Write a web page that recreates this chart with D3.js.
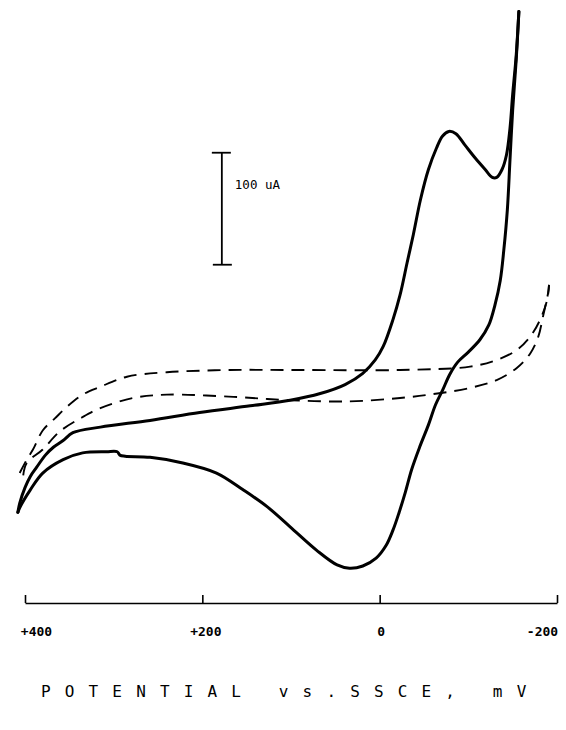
<!DOCTYPE html>
<html>
<head>
<meta charset="utf-8">
<script src="https://cdn.jsdelivr.net/npm/d3@7/dist/d3.min.js"></script>
<style>
  html, body { margin: 0; padding: 0; background: #fff; }
  svg { display: block; }
  text { fill: #000; }
</style>
</head>
<body>
<svg id="chart" width="566" height="730"></svg>
<script>
// ---- Data (potential in mV vs SSCE, current in µA, relative to dashed background) ----
const xTicks = [400, 200, 0, -200];
const xTickLabels = ["+400", "+200", "0", "-200"];
const axisTitle = "POTENTIAL vs.SSCE, mV";
const scaleBarLabel = "100 uA";
const scaleBarValues = [94, 194];   // µA span of the scale bar (100 µA)
const scaleBarPotential = 178;      // mV where the bar sits

// solid CV: cathodic sweep (+400 -> -160 mV)
const cvForward = [
  [408,-127],[406,-119],[400,-105],[394,-95],[387,-87],[377,-76],[368,-69],[357,-63],
  [346,-56],[315,-51],[259,-45],[203,-38],[146,-32],[101,-27],[67,-21],[39,-13],
  [19,-3],[5,9],[-4,21],[-15,45],[-23,67],[-31,96],[-38,121],[-46,152],[-55,179],
  [-64,198],[-71,209],[-78,213],[-86,211],[-96,201],[-108,189],[-119,179],[-127,172],
  [-132,172],[-138,179],[-143,192],[-147,216],[-150,246],[-154,281],[-157,320]
];
// solid CV: anodic return sweep (-160 -> +400 mV)
const cvReverse = [
  [-157,320],[-154,277],[-150,232],[-147,188],[-144,143],[-140,107],[-136,80],[-130,58],
  [-123,40],[-113,27],[-100,16],[-88,7],[-79,-4],[-71,-18],[-63,-31],[-55,-49],
  [-45,-69],[-36,-89],[-29,-109],[-22,-127],[-15,-143],[-7,-157],[4,-168],[19,-175],
  [34,-177],[48,-174],[71,-161],[101,-140],[127,-122],[154,-107],[184,-92],
  [222,-83],[259,-78],[287,-77],[293,-76],[296,-73],[308,-73],[335,-74],[357,-80],
  [380,-92],[394,-107],[406,-123],[408,-127]
];
// dashed background (blank electrolyte): upper and lower branches
const bgUpper = [
  [406,-92],[398,-80],[391,-71],[380,-54],[366,-43],[353,-33],[335,-22],[315,-15],
  [285,-6],[240,-2],[169,0],[90,0],[-23,0],[-102,3],[-132,9],[-155,18],[-170,30],
  [-181,45],[-189,63],[-191,76]
];
const bgLower = [
  [402,-94],[398,-83],[380,-71],[361,-55],[335,-42],[315,-34],[278,-25],[240,-22],
  [165,-24],[101,-27],[34,-28],[-23,-25],[-65,-21],[-102,-16],[-132,-9],[-155,2],
  [-170,15],[-179,30],[-184,47],[-190,69],[-191,76]
];

// ---- Scales ----
const x = d3.scaleLinear().domain([400, -200]).range([25, 557]);
const y = d3.scaleLinear().domain([0, 100]).range([370, 258]);

const svg = d3.select("#chart");
const line = d3.line()
  .x(d => x(d[0])).y(d => y(d[1]))
  .curve(d3.curveCatmullRom.alpha(0.5));

// dashed background curves
[bgUpper, bgLower].forEach(data => {
  svg.append("path")
    .attr("d", line(data))
    .attr("fill", "none")
    .attr("stroke", "#000")
    .attr("stroke-width", 1.9)
    .attr("stroke-dasharray", "13,8");
});

// solid CV
[cvForward, cvReverse].forEach(data => {
  svg.append("path")
    .attr("d", line(data))
    .attr("fill", "none")
    .attr("stroke", "#000")
    .attr("stroke-width", 3)
    .attr("stroke-linejoin", "round")
    .attr("stroke-linecap", "round");
});

// scale bar
const sbx = x(scaleBarPotential);
const sbTop = y(scaleBarValues[1]), sbBot = y(scaleBarValues[0]);
const sb = svg.append("g").attr("stroke", "#000").attr("stroke-width", 1.8);
sb.append("line").attr("x1", sbx).attr("x2", sbx).attr("y1", sbTop).attr("y2", sbBot);
sb.append("line").attr("x1", sbx - 10).attr("x2", sbx + 9).attr("y1", sbTop).attr("y2", sbTop);
sb.append("line").attr("x1", sbx - 9).attr("x2", sbx + 10).attr("y1", sbBot).attr("y2", sbBot);
svg.append("text")
  .attr("x", sbx + 13).attr("y", (sbTop + sbBot) / 2 - 20)
  .attr("font-family", "DejaVu Sans Mono, monospace")
  .attr("font-size", 12.5)
  .text(scaleBarLabel);

// x axis
const axis = d3.axisBottom(x)
  .tickValues(xTicks)
  .tickFormat((d, i) => xTickLabels[i])
  .tickSizeInner(-8)
  .tickSizeOuter(0)
  .tickPadding(24);
const gAxis = svg.append("g")
  .attr("transform", "translate(0,603)")
  .call(axis);
gAxis.select(".domain").attr("stroke", "#000").attr("stroke-width", 1.6);
gAxis.selectAll(".tick line").attr("stroke", "#000").attr("stroke-width", 1.6);
const labelShift = [11, 3, 1, -15];
gAxis.selectAll(".tick text")
  .attr("font-family", "DejaVu Sans Mono, monospace")
  .attr("font-size", 13)
  .attr("font-weight", "bold")
  .attr("fill", "#000")
  .attr("x", (d, i) => labelShift[i]);

// axis title
svg.append("text")
  .attr("x", 41).attr("y", 697)
  .attr("font-family", "DejaVu Sans Mono, monospace")
  .attr("font-size", 16)
  .attr("font-weight", 300)
  .attr("letter-spacing", 14.15)
  .style("white-space", "pre")
  .text(axisTitle);
</script>
</body>
</html>
